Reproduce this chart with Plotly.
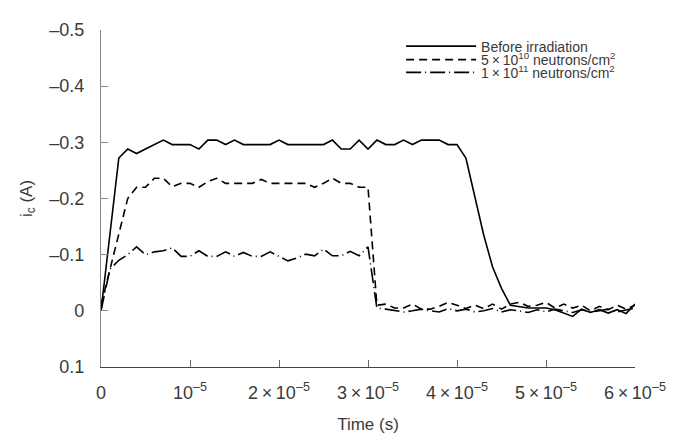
import plotly.graph_objects as go

time_us = list(range(0, 61))
time_s = [t * 1e-6 for t in time_us]

before = [0, -0.14, -0.272, -0.288, -0.280, -0.288, -0.296, -0.304, -0.296, -0.296,
          -0.296, -0.288, -0.304, -0.304, -0.296, -0.304, -0.296, -0.296, -0.296, -0.296,
          -0.304, -0.296, -0.296, -0.296, -0.296, -0.296, -0.304, -0.288, -0.288, -0.304,
          -0.288, -0.304, -0.296, -0.296, -0.304, -0.296, -0.304, -0.304, -0.304, -0.296,
          -0.296, -0.272, -0.205, -0.135, -0.078, -0.040, -0.010, -0.008, -0.005, -0.005,
          -0.005, -0.002, 0.004, 0.010, -0.003, 0.003, -0.002, 0.004, -0.002, 0.005,
          -0.012]

dose_5e10 = [-0.01, -0.075, -0.14, -0.200, -0.220, -0.220, -0.236, -0.236, -0.221, -0.227,
             -0.227, -0.220, -0.230, -0.236, -0.227, -0.227, -0.227, -0.227, -0.234, -0.227,
             -0.227, -0.227, -0.227, -0.227, -0.220, -0.227, -0.236, -0.227, -0.227, -0.220,
             -0.220, -0.010, -0.012, -0.005, -0.005, -0.012, -0.003, -0.003, -0.008, -0.015,
             -0.010, -0.004, -0.010, -0.004, -0.012, -0.003, -0.012, -0.015, -0.008, -0.010,
             -0.015, -0.005, -0.012, -0.005, -0.010, 0.000, -0.008, -0.002, -0.010, -0.003,
             -0.010]

dose_1e11 = [0, -0.074, -0.090, -0.100, -0.114, -0.100, -0.105, -0.107, -0.112, -0.097,
             -0.097, -0.107, -0.097, -0.097, -0.105, -0.097, -0.104, -0.097, -0.097, -0.105,
             -0.097, -0.089, -0.094, -0.101, -0.098, -0.110, -0.098, -0.098, -0.106, -0.098,
             -0.114, -0.005, -0.003, 0.000, 0.002, 0.000, -0.003, 0.000, 0.002, -0.004,
             0.000, -0.003, 0.002, 0.000, -0.004, 0.002, -0.002, 0.000, 0.003, -0.002,
             0.002, -0.003, 0.000, 0.003, -0.002, 0.002, 0.000, -0.003, 0.002, -0.002,
             -0.005]

series_names = ["Before irradiation",
                "5\u2009×\u200910<sup>10</sup> neutrons/cm<sup>2</sup>",
                "1\u2009×\u200910<sup>11</sup> neutrons/cm<sup>2</sup>"]

x_tickvals = [0, 1e-5, 2e-5, 3e-5, 4e-5, 5e-5, 6e-5]
x_ticktext = ["0", "10<sup>–5</sup>", "2\u2009×\u200910<sup>–5</sup>", "3\u2009×\u200910<sup>–5</sup>",
              "4\u2009×\u200910<sup>–5</sup>", "5\u2009×\u200910<sup>–5</sup>", "6\u2009×\u200910<sup>–5</sup>"]
y_tickvals = [-0.5, -0.4, -0.3, -0.2, -0.1, 0, 0.1]
y_ticktext = ["–0.5", "–0.4", "–0.3", "–0.2", "–0.1", "0", "0.1"]

FONT = "Liberation Sans, Arial, sans-serif"
TXT = "#3a3a3a"

fig = go.Figure()
series = [before, dose_5e10, dose_1e11]
dashes = ["solid", "8px,5px", "15px,4px,1px,4px"]
legends = ["legend", "legend2", "legend3"]
for name, ys, dash, lg in zip(series_names, series, dashes, legends):
    fig.add_trace(go.Scatter(x=time_s, y=ys, mode="lines", name=name,
                             line=dict(color="black", width=1.6, dash=dash),
                             legend=lg))

leg_common = dict(x=0.562, xanchor="left", yanchor="middle", bgcolor="rgba(0,0,0,0)",
                  font=dict(family=FONT, size=14, color=TXT), itemwidth=70,
                  borderwidth=0, tracegroupgap=0)
fig.update_layout(
    width=676, height=440,
    margin=dict(l=93, r=49, t=15, b=81),
    paper_bgcolor="white", plot_bgcolor="white",
    font=dict(family=FONT, size=17, color=TXT),
    showlegend=True,
    legend=dict(y=0.951, **leg_common),
    legend2=dict(y=0.911, **leg_common),
    legend3=dict(y=0.873, **leg_common),
    xaxis=dict(range=[0, 6e-5], tickmode="array", tickvals=x_tickvals, ticktext=x_ticktext,
               showgrid=False, zeroline=False, showline=True, linecolor="#444444", linewidth=1.2,
               ticks="inside", ticklen=7, tickcolor="#666666", tickwidth=1,
               ticklabelstandoff=9,
               tickfont=dict(family=FONT, size=18, color=TXT),
               title=dict(text="Time (s)", font=dict(family=FONT, size=17, color=TXT), standoff=16)),
    yaxis=dict(range=[0.1, -0.5], tickmode="array", tickvals=y_tickvals, ticktext=y_ticktext,
               showgrid=False, zeroline=False, showline=True, linecolor="#888888", linewidth=1.2,
               ticks="inside", ticklen=7, tickcolor="#888888", tickwidth=1,
               ticklabelstandoff=12,
               tickfont=dict(family=FONT, size=18, color=TXT),
               title=dict(text="i<sub>c</sub> (A)", font=dict(family=FONT, size=17, color=TXT), standoff=12)),
)

fig.write_html("out.html")
